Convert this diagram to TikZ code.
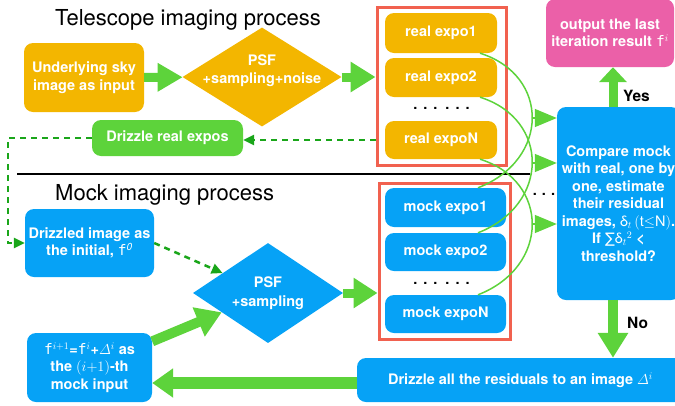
\documentclass[tikz,border=0pt]{standalone}
\usepackage{amsmath}
\usepackage{fontspec}
\setmainfont{TeX Gyre Heros}
\newfontfamily\monof{DejaVu Sans Mono}
\newfontfamily\symf{DejaVu Sans}
\usetikzlibrary{arrows.meta,shapes.geometric}

\definecolor{skyorange}{HTML}{F3B600}
\definecolor{leafgreen}{HTML}{5DD33B}
\definecolor{darkleaf}{HTML}{1AA61A}
\definecolor{mockblue}{HTML}{06A2F6}
\definecolor{outpink}{HTML}{EB60A8}
\definecolor{framered}{HTML}{F1614F}

\newcommand{\fv}{{\mdseries\monof f}}
\newcommand{\boxfont}{\bfseries\fontsize{14.5}{17.5}\selectfont}
\newcommand{\titlefont}{\fontsize{22}{26}\selectfont}
\newcommand{\threedots}{.\hspace{5pt}.\hspace{5pt}.}
\newcommand{\sixdots}{.\hspace{6pt}.\hspace{6pt}.\hspace{8pt}.\hspace{6pt}.\hspace{6pt}.}

\begin{document}
\begin{tikzpicture}[x=1pt,y=-1pt,
  box/.style={rounded corners=9pt, text=white, font=\boxfont, align=center, inner sep=0pt},
  boxtext/.style={text=white, font=\boxfont, align=center, inner sep=0pt},
  rhomb/.style={diamond, inner sep=0pt},
  frame/.style={draw=framered, line width=3pt},
  fat/.style={draw=leafgreen, line width=#1},
  arcline/.style={draw=leafgreen, line width=1.5pt},
  dashgreen/.style={draw=darkleaf, line width=2.5pt, dash pattern=on 6pt off 5pt,
    -{Triangle[length=11pt,width=10pt]}},
  verdict/.style={font=\bfseries\fontsize{15.5}{18}\selectfont, text=black, inner sep=0pt},
  dotrow/.style={font=\boxfont, text=black, inner sep=0pt, anchor=base}
]
\useasboundingbox (0,0) rectangle (675,405);

% section titles and divider
\node[anchor=base west, font=\titlefont, inner sep=0pt] (ttlA) at (55,25) {Telescope imaging process};
\node[anchor=base west, font=\titlefont, inner sep=0pt] (ttlB) at (55,200) {Mock imaging process};
\draw[black, line width=2.4pt, dash pattern=on 2.5pt off 0.5pt] (17,174) -- (530,174);

% telescope branch
\node[box, fill=skyorange, minimum width=120pt, minimum height=69pt] (sky) at (84,77.5)
  {\fontsize{14.5}{17}\selectfont Underlying sky\\image as input};
\node[rhomb, fill=skyorange, minimum width=159pt, minimum height=99pt] (psfa) at (262,77) {};
\node[boxtext, font=\bfseries\fontsize{14.5}{18}\selectfont] (psfatxt) at (262,71) {PSF\\+sampling+noise};

\node[frame, minimum width=129pt, minimum height=158pt] (realgrp) at (441.5,86) {};
\node[box, fill=skyorange, minimum width=112pt, minimum height=40pt] (r1) at (441,33) {real expo1};
\node[box, fill=skyorange, minimum width=112pt, minimum height=39pt] (r2) at (441,77.5) {real expo2};
\node[dotrow] (rdots) at (441.5,109) {\sixdots};
\node[box, fill=skyorange, minimum width=112pt, minimum height=38pt] (rN) at (441,140) {real expoN};

\node[box, fill=leafgreen, minimum width=151pt, minimum height=36pt] (drz) at (167.5,138) {Drizzle real expos};

% output and comparison
\node[box, fill=outpink, minimum width=128pt, minimum height=68pt] (out) at (610,33)
  {\fontsize{14.5}{19}\selectfont output the last\\iteration result \fv$^{i}$};
\node[box, fill=mockblue, minimum width=123pt, minimum height=193pt] (cmp) at (618.5,203.5)
  {\fontsize{14.5}{19.4}\selectfont Compare mock\\with real, one by\\one, estimate\\their residual\\
   images, \smash{{\mdseries δ}$_{t}$\,$(\mathrm{t}{\leq}\mathrm{N})$}.\\
   If \smash{{\mdseries\symf ∑}{\mdseries δ}$_{t}{}^{2}$} <\\threshold?};

% mock branch
\node[box, fill=mockblue, minimum width=129pt, minimum height=68pt] (init) at (89.5,243)
  {\fontsize{14.5}{21}\selectfont Drizzled image as\\the initial, \fv\textsuperscript{\mdseries\itshape 0}};
\node[rhomb, fill=mockblue, minimum width=150pt, minimum height=100pt] (psfb) at (268,293) {};
\node[boxtext, font=\bfseries\fontsize{14.5}{19}\selectfont] (psfbtxt) at (268,293) {PSF\\+sampling};

\node[frame, minimum width=131pt, minimum height=156pt] (mockgrp) at (444.5,261) {};
\node[box, fill=mockblue, minimum width=121pt, minimum height=39pt] (m1) at (445.5,207.5) {mock expo1};
\node[box, fill=mockblue, minimum width=121pt, minimum height=38pt] (m2) at (445.5,252) {mock expo2};
\node[dotrow] (mdots) at (441.5,284) {\sixdots};
\node[box, fill=mockblue, minimum width=121pt, minimum height=38pt] (mN) at (445.5,314) {mock expoN};

\node[box, fill=mockblue, minimum width=125pt, minimum height=69pt] (fbox) at (89.5,367.5)
  {\fontsize{14.5}{21}\selectfont \fv$^{i+1}$=\fv$^{i}$+$\varDelta^{i}$ as\\the $(i{+}1)$-th\\mock input};
\node[box, fill=mockblue, minimum width=327pt, minimum height=44pt] (drzall) at (520.5,380)
  {Drizzle all the residuals to an image $\varDelta^{i}$};

% thick flow arrows
\draw[fat=9pt, -{Triangle[length=25pt,width=27pt]}] (sky) -- (psfa);
\draw[fat=9pt, -{Triangle[length=25pt,width=29pt]}] (psfa.east) -- (psfa.east -| realgrp.west);
\draw[fat=9pt, -{Triangle[length=24pt,width=29pt]}] (psfb.east) -- (psfb.east -| mockgrp.west);
\draw[fat=10pt, -{Triangle[length=25pt,width=30pt]}] (fbox) -- (psfb);
\draw[fat=9pt, -{Triangle[length=15pt,width=27pt]}] ([xshift=-5.5pt]cmp.north) -- ([xshift=-5.5pt]cmp.north |- out.south);
\draw[fat=10pt, -{Triangle[length=25pt,width=29pt]}] ([xshift=-5.5pt]cmp.south) -- ([xshift=-5.5pt]cmp.south |- drzall.north);
\draw[fat=12pt, -{Triangle[length=21pt,width=28pt]}] ([yshift=-3pt]drzall.west) -- ([yshift=-3pt]drzall.west -| fbox.east);
\node[verdict, anchor=base west] (yes) at (623,101) {Yes};
\node[verdict, anchor=base west] (no) at (627,328) {No};

% dashed initialisation path
\draw[dashgreen] (rN.west -| realgrp.west) -- (rN.west -| drz.east);
\draw[dashgreen] (drz.west) -- ++(-84,0) |- (init.west);
\draw[dashgreen] (init.east) -- (psfb);

% pairing arcs real expo i <-> mock expo i, each feeding the comparison
\draw[arcline] ([xshift=39pt]r1.south) .. controls +(70,22) and +(72,-28) .. ([xshift=32.5pt]m1.north);
\draw[arcline] ([xshift=39pt]r2.south) .. controls +(70,22) and +(72,-28) .. ([xshift=32.5pt]m2.north);
\draw[arcline] ([xshift=39pt]rN.south) .. controls +(70,22) and +(72,-28) .. ([xshift=32.5pt]mN.north);
\coordinate (a1) at (532,118);
\coordinate (a2) at (532,163);
\coordinate (a3) at (532,224);
\draw[arcline, -{Triangle[length=22pt,width=18pt]}] (a1) -- (a1 -| cmp.west);
\draw[arcline, -{Triangle[length=22pt,width=18pt]}] (a2) -- (a2 -| cmp.west);
\draw[arcline, -{Triangle[length=22pt,width=18pt]}] (a3) -- (a3 -| cmp.west);
\node[dotrow] (cdots) at (544,195) {\threedots};
\end{tikzpicture}
\end{document}
